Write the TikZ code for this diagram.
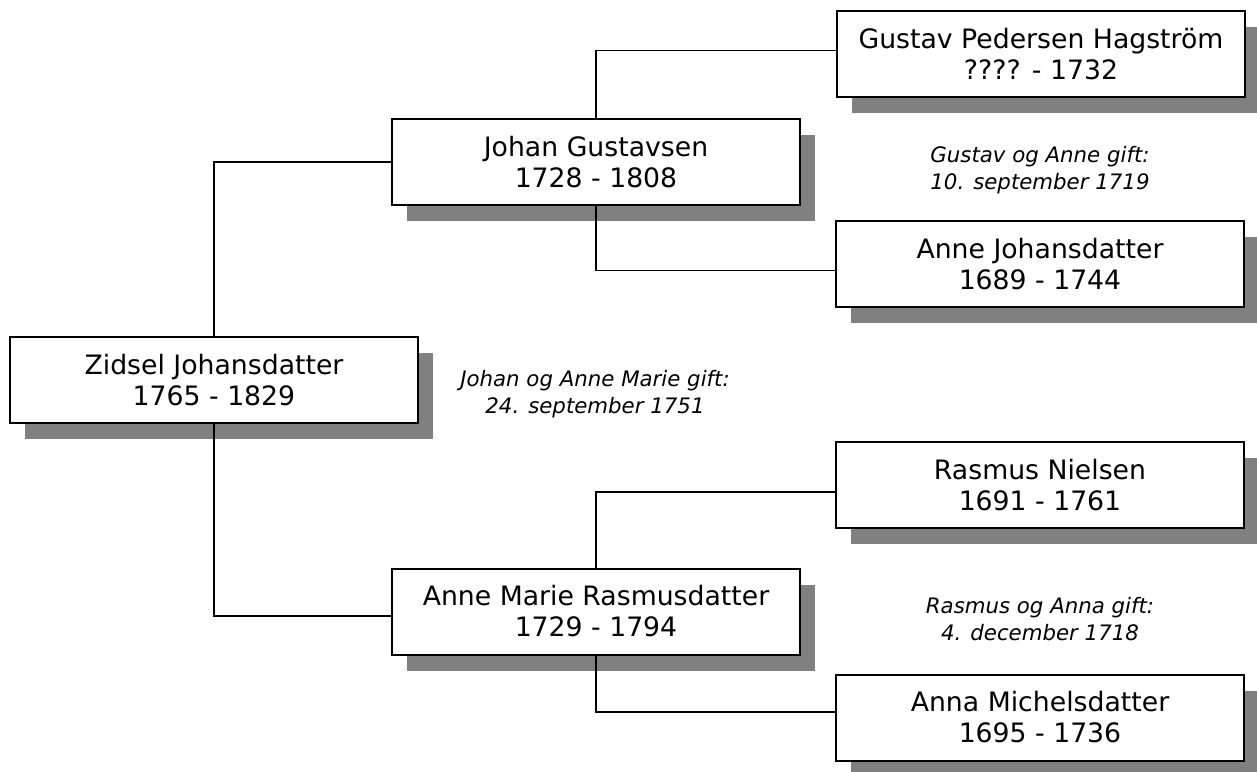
\documentclass[tikz,border=0pt]{standalone}
\usepackage{fontspec}
\setmainfont{DejaVu Sans}
\usetikzlibrary{shadows}
\definecolor{shadowgray}{HTML}{808080}
\tikzset{
  person/.style={draw=black, line width=2pt, fill=white, rectangle,
    minimum width=408pt, minimum height=86pt, inner sep=0pt, align=center,
    font=\fontsize{26.7}{31}\selectfont,
    general shadow={shadow xshift=15pt, shadow yshift=-16pt, fill=shadowgray, draw=none}},
  link/.style={draw=black, line width=1.5pt},
  marriage/.style={align=center, font=\fontsize{21.3}{27}\selectfont\itshape}
}
\begin{document}
\begin{tikzpicture}[x=1pt,y=-1pt]
\useasboundingbox (0,0) rectangle (1257,771);
\node[person] (gustav) at (1041,53.7) {Gustav Pedersen Hagström\\???? - 1732};
\node[person] (johan) at (596,162) {Johan Gustavsen\\1728 - 1808};
\node[person] (annej) at (1040,263.7) {Anne Johansdatter\\1689 - 1744};
\node[person] (zidsel) at (214,380) {Zidsel Johansdatter\\1765 - 1829};
\node[person] (rasmus) at (1040,485) {Rasmus Nielsen\\1691 - 1761};
\node[person] (annem) at (596,611.5) {Anne Marie Rasmusdatter\\1729 - 1794};
\node[person] (annam) at (1040,717.5) {Anna Michelsdatter\\1695 - 1736};

\node[marriage] (m1) at (1040,170) {Gustav og Anne gift:\\10. september 1719};
\node[marriage] (m2) at (595,394) {Johan og Anne Marie gift:\\24. september 1751};
\node[marriage] (m3) at (1040,619) {Rasmus og Anna gift:\\4. december 1718};

\draw[link] (johan.north) |- ([yshift=3pt]gustav.west);
\draw[link] (johan.south) |- ([yshift=-7pt]annej.west);
\draw[link] (annem.north) |- ([yshift=-7pt]rasmus.west);
\draw[link] (annem.south) |- ([yshift=5.5pt]annam.west);
\draw[link] (zidsel.north) |- (johan.west);
\draw[link] (zidsel.south) |- ([yshift=-4.5pt]annem.west);
\end{tikzpicture}
\end{document}
